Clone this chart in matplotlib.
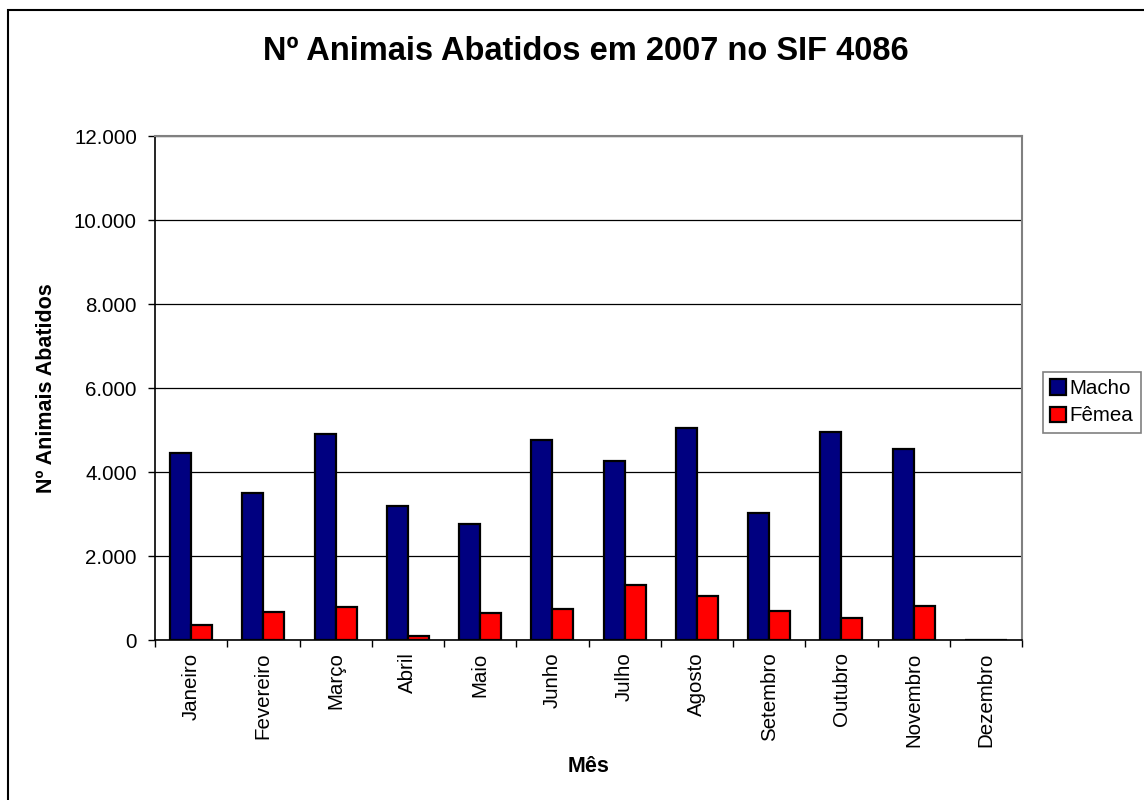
import numpy as np
import matplotlib
matplotlib.use("Agg")
import matplotlib.pyplot as plt
from matplotlib.patches import Rectangle
from matplotlib.ticker import FuncFormatter, FixedLocator

plt.rcParams['font.family'] = ['Liberation Sans', 'DejaVu Sans']

# Dados
meses = ["Janeiro", "Fevereiro", "Março", "Abril", "Maio", "Junho",
         "Julho", "Agosto", "Setembro", "Outubro", "Novembro", "Dezembro"]
macho = [4450, 3510, 4905, 3190, 2770, 4770, 4260, 5050, 3025, 4950, 4555, 0]
femea = [350, 675, 780, 95, 635, 745, 1310, 1040, 690, 530, 800, 0]

fig = plt.figure(figsize=(11.44, 8), dpi=100)
ax = fig.add_axes([155/1144, 1 - 640/800, (1022 - 155)/1144, (640 - 136)/800])

x = np.arange(len(meses))
w = 0.29
ax.bar(x - w/2, macho, w, color="#000080", edgecolor="black", linewidth=1.6,
       label="Macho", zorder=3)
ax.bar(x + w/2, femea, w, color="#FF0000", edgecolor="black", linewidth=1.6,
       label="Fêmea", zorder=3)

ax.set_xlim(-0.5, len(meses) - 0.5)
ax.set_ylim(0, 12000)
ax.set_yticks(np.arange(0, 12001, 2000))
ax.yaxis.set_major_formatter(FuncFormatter(lambda v, p: f"{int(v):,}".replace(",", ".")))
ax.yaxis.grid(True, color="black", linewidth=0.9, zorder=0)
ax.set_axisbelow(True)

# ticks nas divisões, rótulos no centro
ax.xaxis.set_major_locator(FixedLocator(np.arange(-0.5, len(meses), 1.0)))
ax.xaxis.set_major_formatter(FuncFormatter(lambda v, p: ""))
ax.xaxis.set_minor_locator(FixedLocator(x))
ax.set_xticklabels(meses, minor=True, rotation=90, va="top", ha="center")
ax.tick_params(axis="x", which="major", direction="out", length=5, width=1)
ax.tick_params(axis="x", which="minor", length=0, pad=9, labelsize=14.8)
ax.tick_params(axis="y", direction="out", length=5, width=1, pad=8, labelsize=14.8)

for s in ["left", "bottom"]:
    ax.spines[s].set_color("black")
    ax.spines[s].set_linewidth(1.2)
for s in ["top", "right"]:
    ax.spines[s].set_color("#808080")
    ax.spines[s].set_linewidth(1.5)

fig.text(586/1144, 1 - 52/800, "Nº Animais Abatidos em 2007 no SIF 4086",
         fontsize=23.5, fontweight="bold", ha="center", va="center")
fig.text(47/1144, 1 - 388/800, "Nº Animais Abatidos", fontsize=15.5,
         fontweight="bold", rotation=90, ha="center", va="center")
fig.text(589/1144, 1 - 766/800, "Mês", fontsize=15.5, fontweight="bold",
         ha="center", va="center")

leg = fig.legend(loc="upper left", bbox_to_anchor=(1043/1144, 1 - 372/800),
                 fontsize=14.8, frameon=True, fancybox=False, framealpha=1,
                 edgecolor="#808080", handlelength=0.75, handleheight=0.75,
                 handletextpad=0.2, borderpad=0.35, labelspacing=0.4,
                 borderaxespad=0)
leg.get_frame().set_linewidth(1.2)

# moldura externa
fig.patches.append(Rectangle((8/1144, -0.1), 1.2, 1 - 10/800 + 0.1,
                             transform=fig.transFigure, fill=False,
                             edgecolor="black", linewidth=1.5))

fig.savefig("out.png", dpi=100)
